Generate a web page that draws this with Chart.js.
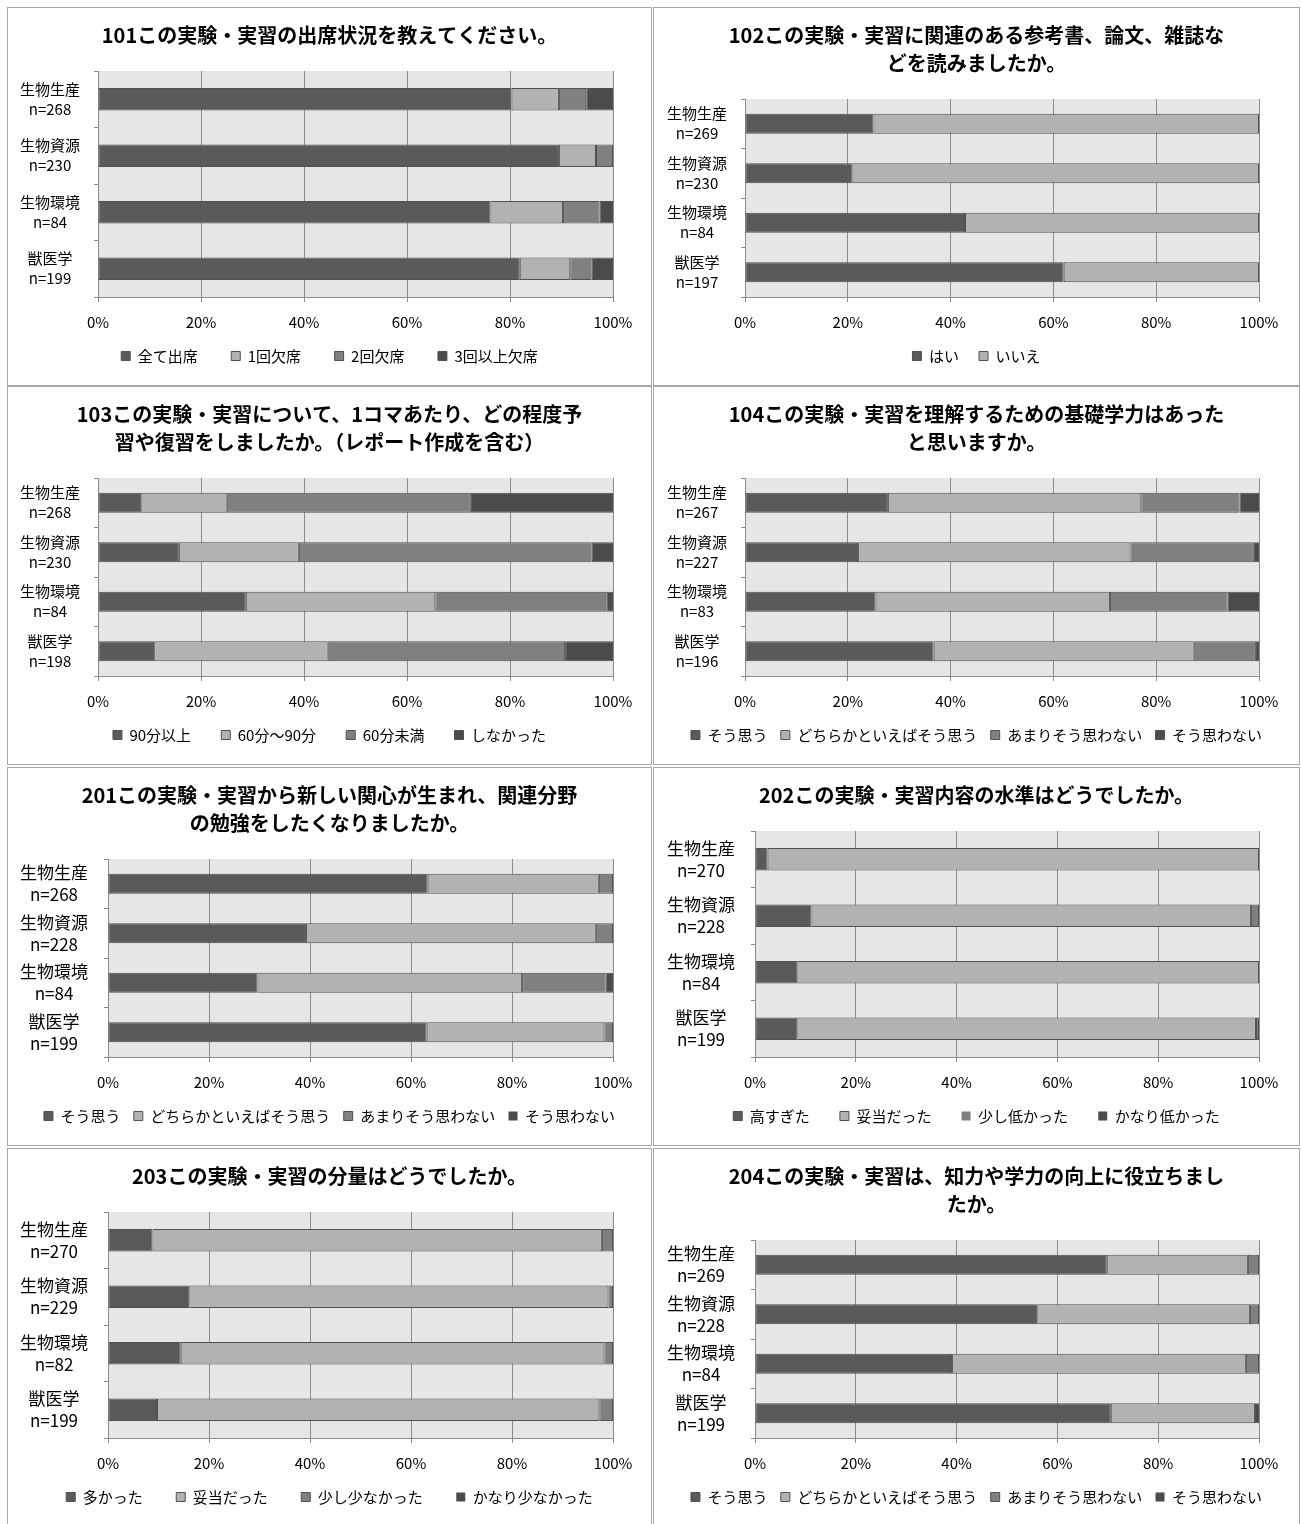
<!DOCTYPE html>
<html lang="ja">
<head>
<meta charset="UTF-8">
<title>実験・実習アンケート集計</title>
<style>
  body { margin: 0; background: #fff; }
  .panel { position: absolute; border: 1px solid #a6a6a6; background: #fff; }
  .panel canvas { display: block; }
</style>
</head>
<body>
<div class="panel" style="left:7px;top:7px;"><canvas id="c101" width="643" height="377"></canvas></div>
<div class="panel" style="left:653px;top:7px;"><canvas id="c102" width="645" height="377"></canvas></div>
<div class="panel" style="left:7px;top:386px;"><canvas id="c103" width="643" height="377"></canvas></div>
<div class="panel" style="left:653px;top:386px;"><canvas id="c104" width="645" height="377"></canvas></div>
<div class="panel" style="left:7px;top:767px;"><canvas id="c201" width="643" height="377"></canvas></div>
<div class="panel" style="left:653px;top:767px;"><canvas id="c202" width="645" height="377"></canvas></div>
<div class="panel" style="left:7px;top:1148px;"><canvas id="c203" width="643" height="376"></canvas></div>
<div class="panel" style="left:653px;top:1148px;"><canvas id="c204" width="645" height="376"></canvas></div>

<script src="https://cdn.jsdelivr.net/npm/chart.js"></script>
<script>
  // categories (学科)
  const cats = ['生物生産', '生物資源', '生物環境', '獣医学'];
  const xTicks = [0, 20, 40, 60, 80, 100];

  // 101 出席状況
  const n101 = [268, 230, 84, 199];
  const leg101 = ['全て出席', '1回欠席', '2回欠席', '3回以上欠席'];
  const q101a = [80.3, 89.5, 76.2, 81.9];
  const q101b = [9.2, 7.2, 14.1, 9.8];
  const q101c = [5.3, 3.3, 7.1, 4.1];
  const q101d = [5.2, 0, 2.6, 4.2];

  // 102 参考書など
  const n102 = [269, 230, 84, 197];
  const leg102 = ['はい', 'いいえ'];
  const q102a = [25.0, 20.9, 42.8, 62.0];
  const q102b = [75.0, 79.1, 57.2, 38.0];

  // 103 予習・復習
  const n103 = [268, 230, 84, 198];
  const leg103 = ['90分以上', '60分～90分', '60分未満', 'しなかった'];
  const q103a = [8.4, 15.7, 28.7, 10.9];
  const q103b = [16.6, 23.3, 36.8, 33.7];
  const q103c = [47.4, 56.8, 33.2, 46.1];
  const q103d = [27.6, 4.2, 1.3, 9.3];

  // shared agree scale (104, 201, 204)
  const legAgree = ['そう思う', 'どちらかといえばそう思う', 'あまりそう思わない', 'そう思わない'];

  // 104 基礎学力
  const n104 = [267, 227, 83, 196];
  const q104a = [27.8, 22.0, 25.4, 36.7];
  const q104b = [49.3, 53.0, 45.6, 50.6];
  const q104c = [19.1, 24.0, 22.9, 12.1];
  const q104d = [3.8, 1.0, 6.1, 0.6];

  // 201 新しい関心
  const n201 = [268, 228, 84, 199];
  const q201a = [63.3, 39.2, 29.6, 63.1];
  const q201b = [33.9, 57.4, 52.4, 35.2];
  const q201c = [2.8, 3.4, 16.5, 1.7];
  const q201d = [0, 0, 1.5, 0];

  // 202 内容の水準
  const n202 = [270, 228, 84, 199];
  const leg202 = ['高すぎた', '妥当だった', '少し低かった', 'かなり低かった'];
  const q202a = [2.5, 11.2, 8.4, 8.4];
  const q202b = [97.5, 87.2, 91.6, 91.0];
  const q202c = [0, 1.6, 0, 0.6];
  const q202d = [0, 0, 0, 0];

  // 203 分量
  const n203 = [270, 229, 82, 199];
  const leg203 = ['多かった', '妥当だった', '少し少なかった', 'かなり少なかった'];
  const q203a = [8.8, 16.1, 14.4, 9.7];
  const q203b = [89.0, 83.0, 83.9, 87.6];
  const q203c = [2.2, 0.9, 1.7, 2.7];
  const q203d = [0, 0, 0, 0];

  // 204 知力・学力の向上
  const n204 = [269, 228, 84, 199];
  const q204a = [69.8, 56.0, 39.1, 70.6];
  const q204b = [28.0, 42.2, 58.3, 28.6];
  const q204c = [2.2, 1.8, 2.6, 0];
  const q204d = [0, 0, 0, 0.8];

  const shades = ['#5a5a5a', '#b2b2b2', '#808080', '#4b4b4b'];

  Chart.defaults.font.family = "'Noto Sans CJK JP', 'Noto Sans', sans-serif";
  Chart.defaults.color = '#000';

  // grey plot area like the spreadsheet original
  const plotBg = {
    id: 'plotBg',
    beforeDraw(chart) {
      const { ctx, chartArea: a } = chart;
      ctx.save();
      ctx.fillStyle = '#e6e6e6';
      ctx.fillRect(a.left, a.top, a.width, a.height);
      ctx.restore();
    }
  };

  function makeChart(id, titleLines, nValues, legendNames, series, geo) {
    const canvas = document.getElementById(id);
    const H = canvas.height;
    const padBottom = H - 365.5;
    const xAxisH = H - padBottom - 35 - 289;
    const defaultLabels = Chart.defaults.plugins.legend.labels.generateLabels;

    new Chart(canvas, {
      type: 'bar',
      data: {
        labels: cats.map((c, i) => [c, 'n=' + nValues[i]]),
        datasets: legendNames.map((name, i) => ({
          label: name,
          data: series[i],
          backgroundColor: shades[i],
          borderColor: '#505050',
          borderWidth: ctx => (ctx.type === 'data' && !ctx.raw) ? 0 : 1,
          borderSkipped: false,
          barPercentage: 0.4,
          categoryPercentage: 1
        }))
      },
      options: {
        indexAxis: 'y',
        responsive: false,
        animation: false,
        devicePixelRatio: 1,
        layout: { padding: { top: 0, left: 0, right: 0, bottom: padBottom } },
        plugins: {
          title: {
            display: true,
            text: titleLines,
            font: { size: 20, weight: 'bold', lineHeight: 1.4 },
            color: '#000',
            padding: { top: 13, bottom: 22 }
          },
          legend: {
            position: 'bottom',
            labels: {
              boxWidth: 9,
              boxHeight: 9,
              padding: 10,
              font: { size: 15 },
              color: '#000',
              // widen the gap between entries, like the original legend
              generateLabels: chart => defaultLabels(chart).map((item, i, all) => {
                if (i < all.length - 1) item.text += ' '.repeat(geo.legendSpaces);
                return item;
              })
            }
          },
          tooltip: { enabled: false }
        },
        scales: {
          x: {
            stacked: true,
            min: 0,
            max: 100,
            afterBuildTicks: s => { s.ticks = xTicks.map(v => ({ value: v })); },
            ticks: { callback: v => v + '%', font: { size: 15 }, padding: 11, color: '#000' },
            grid: { color: '#8c8c8c', tickLength: 5, tickColor: '#8c8c8c' },
            border: { color: '#8c8c8c' },
            afterFit: s => {
              s.height = xAxisH;
              s.paddingRight = canvas.width - 605;
            }
          },
          y: {
            stacked: true,
            ticks: {
              crossAlign: 'center',
              padding: geo.labelGap,
              font: { size: geo.labelSize, lineHeight: geo.labelLine },
              color: '#000'
            },
            grid: { offset: true, drawOnChartArea: false, tickLength: 4, color: '#8c8c8c' },
            border: { color: '#8c8c8c' },
            afterFit: s => { s.width = geo.left; }
          }
        }
      },
      plugins: [plotBg]
    });
  }

  const small = { left: 90, labelSize: 15, labelLine: 1.33, labelGap: 14 };
  const large = { left: 100, labelSize: 17, labelLine: 1.3, labelGap: 16 };

  makeChart('c101', ['101この実験・実習の出席状況を教えてください。'], n101, leg101,
    [q101a, q101b, q101c, q101d], { ...small, legendSpaces: 7 });
  makeChart('c102', ['102この実験・実習に関連のある参考書、論文、雑誌な', 'どを読みましたか。'], n102, leg102,
    [q102a, q102b], { ...small, left: 91, legendSpaces: 3 });
  makeChart('c103', ['103この実験・実習について、1コマあたり、どの程度予', '習や復習をしましたか。（レポート作成を含む）'], n103, leg103,
    [q103a, q103b, q103c, q103d], { ...small, legendSpaces: 6 });
  makeChart('c104', ['104この実験・実習を理解するための基礎学力はあった', 'と思いますか。'], n104, legAgree,
    [q104a, q104b, q104c, q104d], { ...small, left: 91, legendSpaces: 1 });
  makeChart('c201', ['201この実験・実習から新しい関心が生まれ、関連分野', 'の勉強をしたくなりましたか。'], n201, legAgree,
    [q201a, q201b, q201c, q201d], { ...large, legendSpaces: 1 });
  makeChart('c202', ['202この実験・実習内容の水準はどうでしたか。'], n202, leg202,
    [q202a, q202b, q202c, q202d], { ...large, left: 101, legendSpaces: 6 });
  makeChart('c203', ['203この実験・実習の分量はどうでしたか。'], n203, leg203,
    [q203a, q203b, q203c, q203d], { ...large, legendSpaces: 7 });
  makeChart('c204', ['204この実験・実習は、知力や学力の向上に役立ちまし', 'たか。'], n204, legAgree,
    [q204a, q204b, q204c, q204d], { ...large, left: 101, legendSpaces: 1 });
</script>
</body>
</html>
